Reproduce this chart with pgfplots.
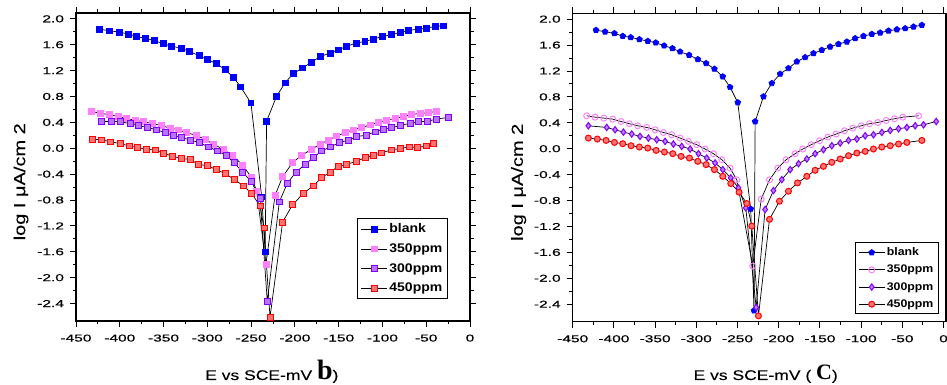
\documentclass[border=0pt]{standalone}
\usepackage{pgfplots}
\pgfplotsset{compat=1.18}
\usepackage{fontspec}
\setmainfont{Liberation Sans}
\newfontfamily\tickfont{Liberation Sans}[FakeStretch=1.55, FakeBold=0.5]
\newfontfamily\labfont{Liberation Sans}[FakeStretch=1.25, FakeBold=0.1]
\newfontfamily\legfont{Liberation Sans}[FakeStretch=1.12]
\newfontfamily\serifb{Liberation Serif}
\definecolor{cblank}{HTML}{0000FF}
\definecolor{cA}{HTML}{FF80FF}
\definecolor{cB}{HTML}{8000FF}
\definecolor{cC}{HTML}{FF0000}
\pgfplotsset{
  myaxis/.style={
    scale only axis, anchor=south west,
    xmin=-450, ymin=-2.67, ymax=2.09,
    xtick={-450,-400,-350,-300,-250,-200,-150,-100,-50,0},
    ytick={-2.4,-2,-1.6,-1.2,-0.8,-0.4,0,0.4,0.8,1.2,1.6,2},
    minor x tick num=1, minor y tick num=1,
    tick align=outside, major tick length=6pt, minor tick length=3.5pt,
    axis line style={line width=1.1pt}, every tick/.style={line width=0.9pt, black},
    tick label style={font=\tickfont\fontsize{10}{12}\selectfont},
    /pgf/number format/assume math mode=true,
    yticklabel style={xshift=-2.5pt, /pgf/number format/.cd, fixed, fixed zerofill, precision=1},
    xticklabel style={yshift=-4pt, /pgf/number format/.cd, fixed, precision=0},
    every axis plot/.append style={black, line width=0.7pt},
    legend style={draw=black, line width=1pt, inner sep=3pt, cells={anchor=west}},
    legend image code/.code={\draw[mark repeat=2,mark phase=2] plot coordinates {(0cm,0cm) (0.45cm,0cm) (0.9cm,0cm)};},
  }
}
\begin{document}
\begin{tikzpicture}
\useasboundingbox (0pt,0pt) rectangle (947pt,385pt);
% ---------------- panel b ----------------
\begin{axis}[myaxis, at={(76pt,64pt)}, width=394pt, height=308pt, xmax=0,
  ylabel={log I μA/cm 2},
  every axis y label/.style={at={(rel axis cs:0,0.452)}, xshift=-55pt, rotate=90, anchor=center, font=\labfont\fontsize{16}{18}\selectfont},
  xlabel={E vs SCE-mV {\serifb\bfseries\fontsize{28}{30}\selectfont b})},
  every axis x label/.style={at={(rel axis cs:0.497,0)}, yshift=-59pt, anchor=base, font=\labfont\fontsize{14}{16}\selectfont},
  legend style={at={(0.945,0.07)}, anchor=south east, font=\legfont\fontsize{12.5}{14}\selectfont\bfseries, row sep=5.5pt, inner sep=3.5pt},
]
\addplot[mark=square*, mark size=2.9pt, mark options={draw=cblank, fill=cblank}] coordinates {
(-423.4,1.84)(-411.9,1.815)(-400.5,1.795)(-390.2,1.764)(-380.7,1.728)(-371.2,1.697)(-360.9,1.667)
(-350.3,1.615)(-340.7,1.574)(-330.1,1.549)(-320.6,1.497)(-309.5,1.43)(-300.0,1.369)(-289.4,1.308)
(-279.8,1.215)(-270.3,1.097)(-262.0,0.949)(-250.2,0.70)(-237.9,-0.75)(-234,-1.6)
(-232.3,0.42)(-220.8,0.805)(-211.3,1.01)(-201.8,1.154)(-191.1,1.241)(-180.9,1.333)(-170.6,1.42)
(-159.9,1.47)(-150.4,1.52)(-140.9,1.574)(-130.2,1.626)(-120.0,1.651)(-110.4,1.687)(-99.8,1.728)
(-89.5,1.754)(-80.0,1.79)(-70.5,1.82)(-59.1,1.84)(-49.5,1.856)(-40.0,1.882)(-30.5,1.892)};
\addlegendentry{blank}
\addplot[mark=square*, mark size=2.9pt, mark options={draw=cA, fill=cA}] coordinates {
(-432.1,0.57)(-422.6,0.54)(-411.9,0.52)(-401.6,0.49)(-392.1,0.46)(-382.6,0.435)(-373.1,0.41)
(-362.4,0.38)(-352.2,0.35)(-342.6,0.31)(-333.1,0.285)(-323.6,0.24)(-313.0,0.20)(-302.7,0.14)
(-293.1,0.062)(-281.7,-0.016)(-271.4,-0.11)(-259.7,-0.26)(-249.4,-0.455)(-243.7,-0.66)
(-233.0,-1.79)
(-222.7,-0.73)(-214.0,-0.44)(-202.5,-0.22)(-192.3,-0.11)(-180.8,-0.016)(-171.3,0.062)
(-161.8,0.124)(-152.3,0.19)(-142.8,0.24)(-133.3,0.285)(-123.7,0.32)(-114.2,0.36)(-104.7,0.40)
(-95.2,0.435)(-85.7,0.46)(-76.1,0.49)(-66.6,0.52)(-57.1,0.54)(-47.6,0.55)(-38.8,0.57)};
\addlegendentry{350ppm}
\addplot[mark=square*, mark size=2.9pt, mark options={draw=cB, fill=cB!55}] coordinates {
(-420.7,0.414)(-409.3,0.414)(-399.0,0.41)(-388.3,0.38)(-378.8,0.35)(-368.5,0.32)(-357.9,0.285)
(-348.3,0.24)(-338.8,0.20)(-329.3,0.166)(-319.0,0.124)(-309.1,0.088)(-298.9,0.021)(-288.6,-0.041)
(-278.7,-0.11)(-269.6,-0.22)(-259.7,-0.37)(-250.1,-0.51)(-239.8,-0.77)
(-231.5,-2.37)
(-217.8,-0.83)(-208.6,-0.54)(-198.7,-0.37)(-188.5,-0.25)(-178.9,-0.145)(-169.4,-0.041)
(-159.2,0.021)(-149.2,0.088)(-139.0,0.124)(-129.4,0.181)(-118.8,0.20)(-108.5,0.254)(-99.0,0.295)
(-89.5,0.32)(-79.2,0.35)(-68.5,0.388)(-59.0,0.41)(-48.7,0.414)(-38.8,0.45)(-24.8,0.476)};
\addlegendentry{300ppm}
\addplot[mark=square*, mark size=2.9pt, mark options={draw=cC, fill=cC!55}] coordinates {
(-431.0,0.14)(-420.7,0.13)(-410.4,0.10)(-399.7,0.072)(-389.5,0.036)(-379.9,0.01)(-370.1,-0.016)
(-359.8,-0.026)(-350.3,-0.078)(-340.0,-0.12)(-330.1,-0.16)(-319.8,-0.17)(-310.3,-0.25)(-299.6,-0.27)
(-290.1,-0.33)(-279.8,-0.39)(-269.6,-0.48)(-258.9,-0.58)(-249.4,-0.70)(-239.8,-0.89)(-235.3,-1.23)
(-228.4,-2.61)
(-214.0,-1.14)(-202.5,-0.87)(-190.4,-0.70)(-178.9,-0.58)(-169.4,-0.455)(-159.9,-0.37)(-150.4,-0.28)
(-140.9,-0.25)(-129.4,-0.20)(-119.9,-0.145)(-110.4,-0.11)(-100.9,-0.07)(-89.5,-0.026)(-79.9,-0.005)
(-69.3,0.021)(-60.2,0.01)(-49.5,0.036)(-41.9,0.072)};
\addlegendentry{450ppm}
\end{axis}
% ---------------- panel c ----------------
\begin{axis}[myaxis, at={(572.7pt,63.3pt)}, width=373.3pt, height=308.4pt, xmax=3,
  ylabel={log I μA/cm 2},
  every axis y label/.style={at={(rel axis cs:0,0.452)}, xshift=-54pt, rotate=90, anchor=center, font=\labfont\fontsize{16}{18}\selectfont},
  xlabel={E vs SCE-mV ( {\serifb\bfseries\fontsize{22}{24}\selectfont C})},
  every axis x label/.style={at={(rel axis cs:0.517,0)}, yshift=-58.3pt, anchor=base, font=\labfont\fontsize{14}{16}\selectfont},
  legend style={at={(0.981,0.024)}, anchor=south east, font=\legfont\fontsize{11}{13}\selectfont\bfseries, row sep=4pt},
]
\addplot[mark=pentagon*, mark size=3pt, mark options={draw=cblank, fill=cblank}] coordinates {
(-421.7,1.83)(-410.7,1.805)(-399.4,1.78)(-389.3,1.738)(-379.6,1.718)(-369.1,1.687)(-358.9,1.661)
(-349.2,1.636)(-339.1,1.59)(-329.0,1.549)(-319.7,1.497)(-308.8,1.446)(-298.2,1.379)(-288.1,1.318)
(-278.0,1.231)(-267.9,1.113)(-259.0,0.949)(-249.7,0.713)(-234,-0.93)(-230,-2.5)
(-228.6,0.42)(-218.5,0.805)(-208.4,1.01)(-198.3,1.154)(-188.2,1.241)(-178.0,1.344)(-167.9,1.41)
(-157.8,1.472)(-147.7,1.523)(-137.6,1.574)(-127.5,1.615)(-117.3,1.651)(-107.2,1.703)(-97.1,1.738)
(-87.0,1.769)(-76.9,1.79)(-66.8,1.82)(-56.6,1.84)(-46.5,1.856)(-36.4,1.882)(-26.3,1.908)};
\addlegendentry{blank}
\addplot[mark=o, mark size=3pt, mark options={draw=cA, line width=1pt}] coordinates {
(-433.0,0.508)(-422.9,0.487)(-412.0,0.472)(-401.4,0.456)(-391.3,0.42)(-381.2,0.385)(-371.1,0.354)
(-360.2,0.328)(-350.0,0.292)(-339.9,0.251)(-329.8,0.215)(-319.7,0.164)(-309.6,0.113)(-299.5,0.062)
(-289.4,-0.005)(-279.2,-0.077)(-269.1,-0.17)(-259.0,-0.30)(-250.9,-0.48)
(-231.5,-1.81)
(-221.3,-0.78)(-211.2,-0.48)(-201.1,-0.30)(-191.0,-0.17)(-180.1,-0.077)(-170.8,-0.005)(-160.6,0.062)
(-150.5,0.123)(-140.4,0.18)(-130.3,0.226)(-120.2,0.277)(-110.1,0.318)(-99.9,0.354)(-89.8,0.385)
(-79.7,0.405)(-69.6,0.436)(-59.5,0.462)(-49.4,0.487)(-30.3,0.508)};
\addlegendentry{350ppm}
\addplot[mark=diamond*, mark size=3.2pt, mark options={draw=cB, fill=cB!50, line width=1pt}] coordinates {
(-431.0,0.354)(-408.7,0.328)(-398.6,0.292)(-388.5,0.256)(-378.4,0.226)(-368.3,0.19)(-358.1,0.164)
(-348.0,0.138)(-337.9,0.113)(-327.8,0.072)(-317.7,0.036)(-307.5,-0.005)(-297.4,-0.077)(-287.3,-0.144)
(-277.2,-0.22)(-267.9,-0.323)(-258.2,-0.45)(-248.9,-0.605)(-240.0,-0.913)
(-227.4,-2.45)
(-216.5,-0.938)(-206.4,-0.646)(-196.3,-0.477)(-186.1,-0.323)(-176.0,-0.231)(-165.9,-0.159)
(-155.8,-0.077)(-145.7,-0.015)(-135.6,0.046)(-125.4,0.087)(-115.3,0.128)(-105.2,0.149)(-95.1,0.2)
(-85.0,0.215)(-74.9,0.251)(-64.7,0.282)(-54.6,0.308)(-44.5,0.328)(-34.4,0.354)(-24.3,0.369)(-8.9,0.42)};
\addlegendentry{300ppm}
\addplot[mark=*, mark size=3pt, mark options={draw=cC, fill=cC!55, line width=1pt}] coordinates {
(-431.0,0.164)(-420.1,0.149)(-409.5,0.128)(-399.4,0.097)(-389.3,0.077)(-379.2,0.046)(-369.1,0.026)
(-358.9,0.01)(-348.8,-0.026)(-338.7,-0.051)(-328.6,-0.077)(-318.5,-0.118)(-308.4,-0.144)(-298.2,-0.195)
(-288.1,-0.246)(-278.0,-0.323)(-267.9,-0.426)(-258.2,-0.538)(-248.1,-0.672)(-238.7,-0.846)(-232.7,-1.195)
(-224.6,-2.58)
(-211.2,-1.09)(-199.1,-0.81)(-188.2,-0.656)(-177.2,-0.528)(-165.9,-0.426)(-155.8,-0.333)(-145.7,-0.272)
(-135.6,-0.21)(-125.4,-0.159)(-115.3,-0.108)(-105.2,-0.067)(-95.1,-0.041)(-85.0,-0.005)(-74.9,0.026)
(-64.7,0.046)(-54.6,0.072)(-44.5,0.097)(-26.3,0.128)};
\addlegendentry{450ppm}
\end{axis}
\end{tikzpicture}
\end{document}
